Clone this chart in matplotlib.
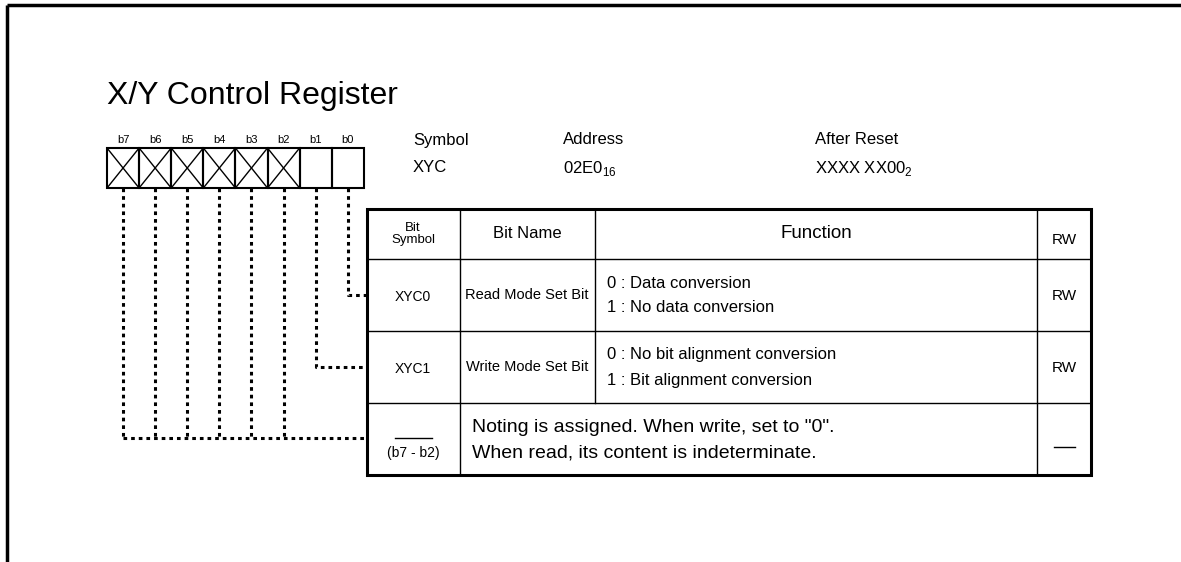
import matplotlib.pyplot as plt
from matplotlib.patches import Rectangle

plt.rcParams['font.family'] = ['Liberation Sans', 'DejaVu Sans']

title = "X/Y Control Register"
bit_labels = ["b7", "b6", "b5", "b4", "b3", "b2", "b1", "b0"]
reserved = [True, True, True, True, True, True, False, False]

info_heads = ["Symbol", "Address", "After Reset"]
info_vals = ["XYC", r"02E0$_{\mathregular{16}}$", r"XXXX XX00$_{\mathregular{2}}$"]

headers = ["Bit\nSymbol", "Bit Name", "Function", "RW"]
row_symbols = ["XYC0", "XYC1"]
row_names = ["Read Mode Set Bit", "Write Mode Set Bit"]
row_funcs = [["0 : Data conversion", "1 : No data conversion"],
             ["0 : No bit alignment conversion", "1 : Bit alignment conversion"]]
row_rw = ["RW", "RW"]
last_sym = "(b7 - b2)"
last_text = ['Noting is assigned. When write, set to "0".',
             "When read, its content is indeterminate."]

fig = plt.figure(figsize=(11.81, 5.62), dpi=100)
ax = fig.add_axes([0, 0, 1, 1])
ax.set_xlim(0, 1181)
ax.set_ylim(562, 0)
ax.axis("off")

# outer frame (top and left only)
ax.plot([7, 1181], [5, 5], color="black", lw=2.5, solid_capstyle="butt")
ax.plot([7, 7], [5, 562], color="black", lw=2.5, solid_capstyle="butt")

ax.text(107, 96, title, fontsize=23, va="center", ha="left")

# register cells
x0, cw, top, bot = 107, 32.1, 148, 188
for i, lab in enumerate(bit_labels):
    xl = x0 + i * cw
    ax.add_patch(Rectangle((xl, top), cw, bot - top, fill=False, ec="black", lw=1.5))
    if reserved[i]:
        ax.plot([xl, xl + cw], [top, bot], color="black", lw=1)
        ax.plot([xl, xl + cw], [bot, top], color="black", lw=1)
    ax.text(xl + cw / 2, 140, lab, fontsize=8, ha="center", va="center")

# symbol / address / reset
for hx, h, v in zip([413, 563, 815], info_heads, info_vals):
    ax.text(hx, 140, h, fontsize=12, ha="left", va="center")
    ax.text(hx, 168, v, fontsize=12, ha="left", va="center")

# table geometry
tl, tr = 367, 1091
cols = [367, 460, 595, 1037, 1091]
rows = [209, 259, 331, 403, 475]

# dotted leaders
dot = dict(color="black", lw=2.2, linestyle=(0, (1.2, 1.3)))
centers = [x0 + i * cw + cw / 2 for i in range(8)]
ax.plot([centers[7], centers[7], tl], [bot, 295, 295], **dot)
ax.plot([centers[6], centers[6], tl], [bot, 367, 367], **dot)
for c in centers[:6]:
    ax.plot([c, c], [bot, 438], **dot)
ax.plot([centers[0], tl], [438, 438], **dot)

# table lines
ax.add_patch(Rectangle((tl, rows[0]), tr - tl, rows[-1] - rows[0], fill=False, ec="black", lw=2.2))
for y in rows[1:-1]:
    ax.plot([tl, tr], [y, y], color="black", lw=1)
for x in [cols[1], cols[3]]:
    ax.plot([x, x], [rows[0], rows[-1]], color="black", lw=1)
ax.plot([cols[2], cols[2]], [rows[0], rows[3]], color="black", lw=1)

# header
ax.text(413, 234, headers[0], fontsize=9.5, ha="center", va="center", linespacing=0.95)
ax.text(527, 234, headers[1], fontsize=12, ha="center", va="center")
ax.text(816, 234, headers[2], fontsize=13.5, ha="center", va="center")
ax.text(1064, 240, headers[3], fontsize=11, ha="center", va="center")

# rows
for k in range(2):
    yc = (rows[k + 1] + rows[k + 2]) / 2
    ax.text(413, yc + 2, row_symbols[k], fontsize=10, ha="center", va="center")
    ax.text(527, yc, row_names[k], fontsize=10.5, ha="center", va="center")
    ax.text(607, yc - 12, row_funcs[k][0], fontsize=12, ha="left", va="center")
    ax.text(607, yc + 13, row_funcs[k][1], fontsize=12, ha="left", va="center")
    ax.text(1064, yc + 1, row_rw[k], fontsize=11, ha="center", va="center")

ax.plot([395, 432], [438, 438], color="black", lw=1)
ax.text(413, 453, last_sym, fontsize=10, ha="center", va="center")
ax.text(472, 428, last_text[0], fontsize=14, ha="left", va="center")
ax.text(472, 453, last_text[1], fontsize=14, ha="left", va="center")
ax.plot([1054, 1075], [447, 447], color="black", lw=1)

fig.savefig("out.png", dpi=100)
